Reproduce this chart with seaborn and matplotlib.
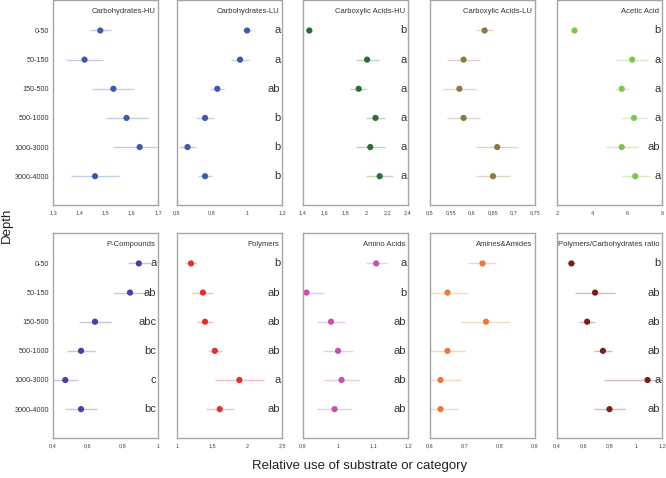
import numpy as np
import pandas as pd
import seaborn as sns
import matplotlib.pyplot as plt
from matplotlib.ticker import FuncFormatter

depths = ['0-50', '50-150', '150-500', '500-1000', '1000-3000', '3000-4000']

# one entry per panel: title, means, errors, letters, x range, x ticks, colour
titles = ['Carbohydrates-HU', 'Carbohydrates-LU', 'Carboxylic Acids-HU', 'Carboxylic Acids-LU', 'Acetic Acid',
          'P-Compounds', 'Polymers', 'Amino Acids', 'Amines&Amides', 'Polymers/Carbohydrates ratio']

carb_hu = [1.48, 1.42, 1.53, 1.58, 1.63, 1.46]
carb_hu_err = [0.04, 0.07, 0.08, 0.08, 0.10, 0.09]
carb_lu = [1.0, 0.96, 0.83, 0.76, 0.66, 0.76]
carb_lu_err = [0.03, 0.05, 0.04, 0.05, 0.05, 0.04]
carbox_hu = [1.46, 2.01, 1.93, 2.09, 2.04, 2.13]
carbox_hu_err = [0.03, 0.11, 0.08, 0.09, 0.14, 0.13]
carbox_lu = [0.63, 0.58, 0.57, 0.58, 0.66, 0.65]
carbox_lu_err = [0.02, 0.04, 0.04, 0.04, 0.05, 0.04]
acetic = [3.0, 6.3, 5.7, 6.4, 5.7, 6.47]
acetic_err = [0.1, 0.9, 0.4, 0.72, 0.95, 0.82]
p_comp = [0.89, 0.84, 0.64, 0.56, 0.47, 0.56]
p_comp_err = [0.064, 0.10, 0.09, 0.08, 0.07, 0.09]
polymers = [1.2, 1.37, 1.40, 1.54, 1.89, 1.61]
polymers_err = [0.08, 0.15, 0.11, 0.10, 0.35, 0.20]
amino = [1.109, 0.91, 0.98, 1.0, 1.01, 0.99]
amino_err = [0.03, 0.05, 0.04, 0.042, 0.05, 0.05]
amines = [0.75, 0.65, 0.76, 0.65, 0.63, 0.63]
amines_err = [0.04, 0.06, 0.07, 0.05, 0.06, 0.05]
ratio = [0.51, 0.69, 0.63, 0.75, 1.09, 0.80]
ratio_err = [0.03, 0.155, 0.06, 0.07, 0.33, 0.12]

means = [carb_hu, carb_lu, carbox_hu, carbox_lu, acetic, p_comp, polymers, amino, amines, ratio]
errors = [carb_hu_err, carb_lu_err, carbox_hu_err, carbox_lu_err, acetic_err,
          p_comp_err, polymers_err, amino_err, amines_err, ratio_err]

letters = [None,
           ['a', 'a', 'ab', 'b', 'b', 'b'],
           ['b', 'a', 'a', 'a', 'a', 'a'],
           None,
           ['b', 'a', 'a', 'a', 'ab', 'a'],
           ['a', 'ab', 'abc', 'bc', 'c', 'bc'],
           ['b', 'ab', 'ab', 'ab', 'a', 'ab'],
           ['a', 'b', 'ab', 'ab', 'ab', 'ab'],
           None,
           ['b', 'ab', 'ab', 'ab', 'a', 'ab']]

xticks = [[1.3, 1.4, 1.5, 1.6, 1.7],
          [0.6, 0.8, 1.0, 1.2],
          [1.4, 1.6, 1.8, 2.0, 2.2, 2.4],
          [0.5, 0.55, 0.6, 0.65, 0.7, 0.75],
          [2, 4, 6, 8],
          [0.4, 0.6, 0.8, 1.0],
          [1.0, 1.5, 2.0, 2.5],
          [0.9, 1.0, 1.1, 1.2],
          [0.6, 0.7, 0.8, 0.9],
          [0.4, 0.6, 0.8, 1.0, 1.2]]

colors = ['#3b5ba9', '#3b5ba9', '#2f6b3a', '#8b7843', '#7cc552',
          '#4b3f9e', '#e52f2f', '#c252aa', '#ea7a3c', '#7a1d1d']

sns.set_style('white')
plt.rcParams['font.family'] = ['Liberation Sans', 'DejaVu Sans']

fig = plt.figure(figsize=(6.66, 4.78), dpi=100)

lefts = [0.0796, 0.2658, 0.455, 0.6456, 0.8363]
bottoms = [0.571, 0.0837]
w, h = 0.1577, 0.428

fmt = FuncFormatter(lambda v, p: ('%g' % round(v, 3)).replace('.', ','))

for i in range(10):
    row, col = divmod(i, 5)
    ax = fig.add_axes([lefts[col], bottoms[row], w, h])
    df = pd.DataFrame({'depth': depths, 'value': means[i], 'err': errors[i]})
    pos = np.arange(len(depths))
    ax.errorbar(df['value'], pos, xerr=df['err'], fmt='none', ecolor=colors[i],
                alpha=0.3, elinewidth=1, capsize=0, zorder=1)
    sns.scatterplot(x=df['value'].values, y=pos, ax=ax, color=colors[i], s=20,
                    edgecolor='none', zorder=2, legend=False)
    ax.set_xlim(xticks[i][0], xticks[i][-1])
    ax.set_ylim(5.99, -1.03)
    ax.set_xticks(xticks[i])
    ax.xaxis.set_major_formatter(fmt)
    ax.set_yticks(pos)
    if col == 0:
        ax.set_yticklabels(depths, fontsize=5.2, color='#333333')
    else:
        ax.set_yticklabels([])
    ax.tick_params(axis='x', length=0, pad=4, labelsize=4, labelcolor='#444444')
    ax.tick_params(axis='y', direction='in', length=2, color='#cccccc', pad=3)
    ax.set_xlabel('')
    ax.set_ylabel('')
    for s in ax.spines.values():
        s.set_color('#a6a6a6')
        s.set_linewidth(1)
    ax.text(0.975, 0.945, titles[i], transform=ax.transAxes, ha='right', va='center',
            fontsize=5.5, color='#333333')
    if letters[i] is not None:
        for k, lab in enumerate(letters[i]):
            ax.text(0.985, k, lab, transform=ax.get_yaxis_transform(), ha='right',
                    va='center', fontsize=8, color='#333333')

fig.text(0.011, 0.529, 'Depth', rotation=90, ha='center', va='center', fontsize=9.5, color='#222222')
fig.text(0.54, 0.025, 'Relative use of substrate or category', ha='center', va='center',
         fontsize=9.5, color='#222222')

fig.savefig('out.png', dpi=100)
